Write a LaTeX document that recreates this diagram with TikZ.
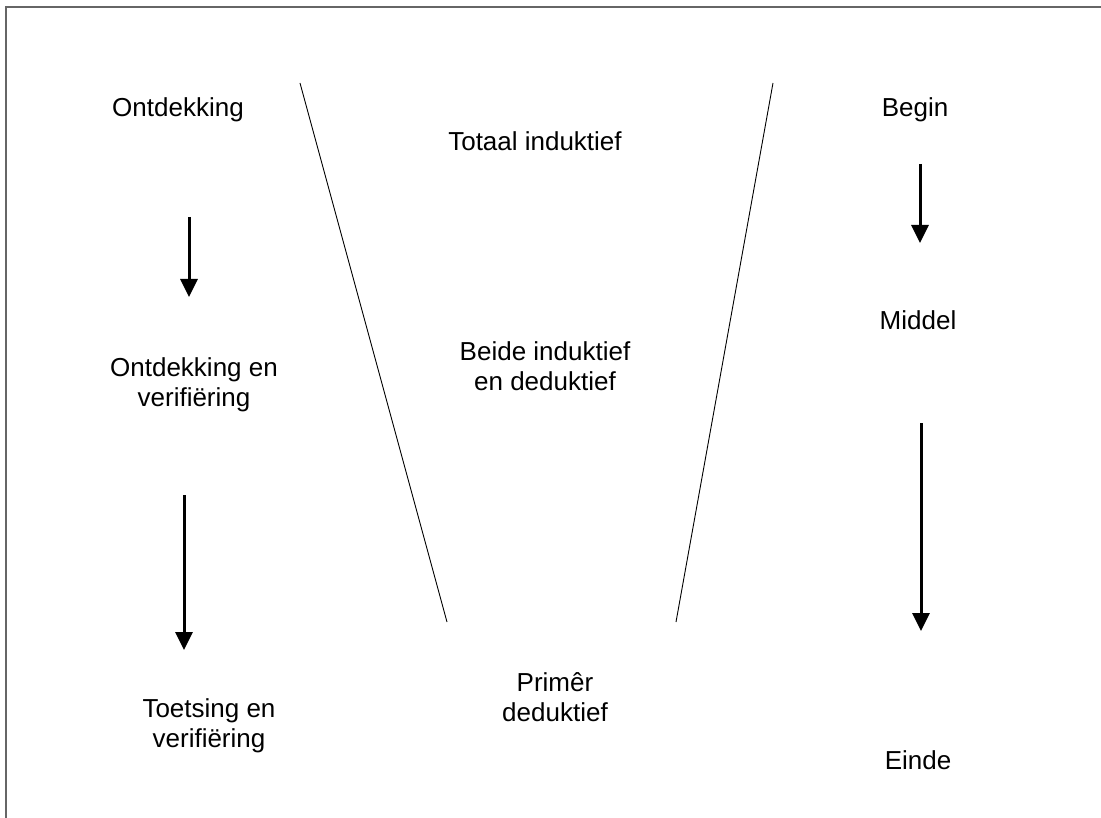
\documentclass[tikz,border=0pt]{standalone}
\usepackage{fontspec}
\setmainfont{Liberation Sans}
\usetikzlibrary{arrows.meta}
\begin{document}
\begin{tikzpicture}[x=1pt,y=-1pt,
  lbl/.style={font=\fontsize{26}{30}\selectfont, align=center, inner sep=0pt},
  divider/.style={line width=0.9pt},
  flow/.style={line width=3pt, -{Triangle[width=17pt,length=18pt]}},
  frame/.style={line width=1.3pt, draw=black!60}]
  \useasboundingbox (0,0) rectangle (1101,818);
  \fill[white] (0,0) rectangle (1101,818);
  % outer frame (runs off the right and bottom edges)
  \draw[frame] (6,830) -- (6,7) -- (1110,7);

  % left column
  \node[lbl, anchor=base] (ont) at (178,117) {Ontdekking};
  \node[lbl] (ontver) at (194,385) {Ontdekking en\\verifiëring};
  \node[lbl] (toets) at (209,726) {Toetsing en\\verifiëring};

  % middle column
  \node[lbl, anchor=base] (tot) at (535,151) {Totaal induktief};
  \node[lbl] (beide) at (545,366) {Beide induktief\\en deduktief};
  \node[lbl] (prim) at (555,697) {Primêr\\deduktief};

  % right column
  \node[lbl, anchor=base] (begin) at (915,117) {Begin};
  \node[lbl, anchor=base] (middel) at (918,330) {Middel};
  \node[lbl, anchor=base] (einde) at (918,769) {Einde};

  % funnel sides
  \coordinate (lt) at (300,83);
  \coordinate (lb) at (447,622);
  \coordinate (rt) at (773,83);
  \coordinate (rb) at (676,622);
  \draw[divider] (lt) -- (lb);
  \draw[divider] (rt) -- (rb);

  % flow arrows
  \coordinate (a1s) at (189,217); \coordinate (a1e) at (189,297);
  \coordinate (a2s) at (184,495); \coordinate (a2e) at (184,650);
  \coordinate (b1s) at (920,164); \coordinate (b1e) at (920,243);
  \coordinate (b2s) at (921,423); \coordinate (b2e) at (921,631);
  \draw[flow] (a1s) -- (a1e);
  \draw[flow] (a2s) -- (a2e);
  \draw[flow] (b1s) -- (b1e);
  \draw[flow] (b2s) -- (b2e);
\end{tikzpicture}
\end{document}
